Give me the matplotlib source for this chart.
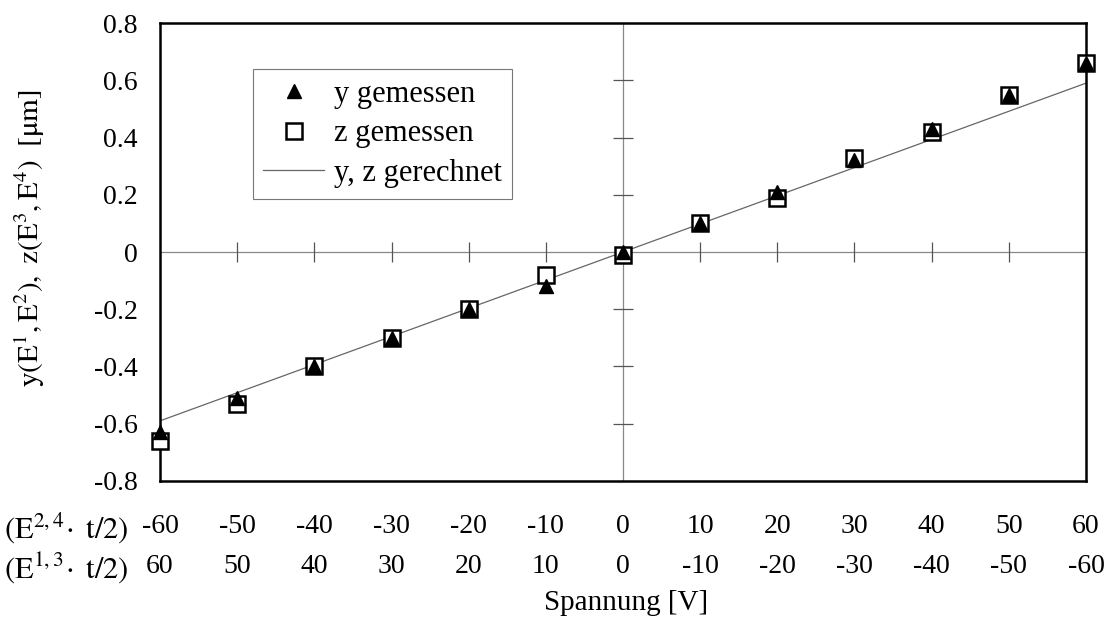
import matplotlib.pyplot as plt
import numpy as np

plt.rcParams['font.family'] = 'Liberation Serif'
plt.rcParams['mathtext.fontset'] = 'stix'

# Voltage steps (E^{2,4} * t/2) and the mirrored row (E^{1,3} * t/2)
spannung = [-60, -50, -40, -30, -20, -10, 0, 10, 20, 30, 40, 50, 60]
row1_labels = ['-60', '-50', '-40', '-30', '-20', '-10', '0', '10', '20', '30', '40', '50', '60']
row2_labels = ['60', '50', '40', '30', '20', '10', '0', '-10', '-20', '-30', '-40', '-50', '-60']

y_gemessen = [-0.63, -0.51, -0.40, -0.30, -0.20, -0.12, 0.00, 0.10, 0.21, 0.32, 0.43, 0.55, 0.66]
z_gemessen = [-0.66, -0.53, -0.40, -0.30, -0.20, -0.08, -0.01, 0.10, 0.19, 0.33, 0.42, 0.55, 0.66]
calc_x = [-60, 60]
calc_y = [-0.59, 0.59]

y_ticks = [-0.8, -0.6, -0.4, -0.2, 0, 0.2, 0.4, 0.6, 0.8]
y_ticklabels = ['-0.8', '-0.6', '-0.4', '-0.2', '0', '0.2', '0.4', '0.6', '0.8']

FS = 20

fig = plt.figure(figsize=(11.12, 6.23), dpi=100)
ax = fig.add_axes([0.1439, 0.228, 0.8327, 0.735])

ax.set_xlim(-60, 60)
ax.set_ylim(-0.8, 0.8)

# crosshair through the origin with small crossing ticks
ax.axhline(0, color='#888888', lw=0.9, zorder=1)
ax.axvline(0, color='#888888', lw=0.9, zorder=1)
xt = [v for v in spannung if v not in (-60, 0, 60)]
ax.plot(xt, [0] * len(xt), ls='none', marker='|', ms=14, mew=0.9, color='#555555', zorder=1)
yt = [v for v in y_ticks if v not in (-0.8, 0, 0.8)]
ax.plot([0] * len(yt), yt, ls='none', marker='_', ms=14, mew=0.9, color='#555555', zorder=1)

line, = ax.plot(calc_x, calc_y, color='#666666', lw=0.9, zorder=2)
sq, = ax.plot(spannung, z_gemessen, ls='none', marker='s', ms=11, mfc='white',
              mec='black', mew=1.8, zorder=3, clip_on=False)
tri, = ax.plot(spannung, y_gemessen, ls='none', marker='^', ms=10.5, color='black',
               zorder=4, clip_on=False)

ax.set_yticks(y_ticks)
ax.set_yticklabels(y_ticklabels, fontsize=FS)
ax.set_xticks(spannung)
ax.set_xticklabels([])
ax.tick_params(length=0, pad=16)

for s in ax.spines.values():
    s.set_linewidth(1.8)
    s.set_color('black')

# two rows of x labels under the frame
trans = ax.get_xaxis_transform()
for x, a, b in zip(spannung, row1_labels, row2_labels):
    ax.text(x, -0.10, a, transform=trans, ha='center', va='center', fontsize=FS)
    ax.text(x, -0.186, b, transform=trans, ha='center', va='center', fontsize=FS)
fig.text(0.004, 0.152, r'$(\mathrm{E}^{2,4}\!\cdot\ \mathrm{t/2})$', fontsize=FS + 2, va='center')
fig.text(0.004, 0.089, r'$(\mathrm{E}^{1,3}\!\cdot\ \mathrm{t/2})$', fontsize=FS + 2, va='center')
fig.text(0.563, 0.032, 'Spannung [V]', fontsize=FS + 1, ha='center', va='center')

ax.set_ylabel(r'$\mathrm{y(E^1,E^2),\ z(E^3,E^4)\ \ [\mu m]}$', fontsize=FS + 1)
ax.yaxis.set_label_coords(-0.122, 0.53)

leg = ax.legend([tri, sq, line], ['y gemessen', 'z gemessen', 'y, z gerechnet'],
                loc='upper left', bbox_to_anchor=(0.1, 0.9), fontsize=FS + 2,
                fancybox=False, framealpha=1, edgecolor='#777777',
                handlelength=2.0, handletextpad=0.3, labelspacing=0.35,
                borderpad=0.35, borderaxespad=0)
leg.get_frame().set_linewidth(0.8)

fig.savefig('out.png', dpi=100)
